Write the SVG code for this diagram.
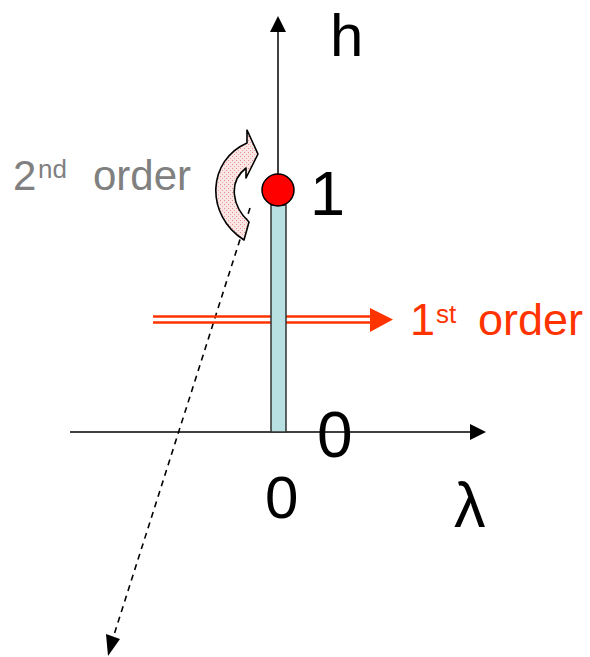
<svg xmlns="http://www.w3.org/2000/svg" width="590" height="657" viewBox="0 0 590 657">
<style>
.t{font-family:"Liberation Sans",Arial,sans-serif;}
.big{font-size:63px;fill:#000;}
.ax{stroke:#000;stroke-width:1.5;fill:none;}
</style>
<defs>
<pattern id="dots" width="4" height="4" patternUnits="userSpaceOnUse">
<rect width="4" height="4" fill="#fbe6e6"/>
<rect x="0" y="0" width="1" height="1" fill="#e48a8a"/>
<rect x="2" y="2" width="1" height="1" fill="#ee9e9e"/>
</pattern>
</defs>
<rect width="590" height="657" fill="#fff"/>
<g id="connectors">
<line class="ax" x1="70" y1="432" x2="471" y2="432"/>
<path d="M470,424 L486,432 L470,440 Z" fill="#000"/>
<line class="ax" x1="278" y1="432" x2="278" y2="31"/>
<path d="M270,32 L278,16 L286,32 Z" fill="#000"/>
<line x1="250" y1="208" x2="113" y2="638" stroke="#000" stroke-width="1.6" stroke-dasharray="6,5"/>
<path d="M106,634 L120,639 L108,656 Z" fill="#000"/>
<line x1="153" y1="316.5" x2="372" y2="316.5" stroke="#ff3300" stroke-width="2.5"/>
<line x1="153" y1="322.5" x2="372" y2="322.5" stroke="#ff3300" stroke-width="2.5"/>
<path d="M370,308 L393,319.5 L370,332 Z" fill="#ff3300"/>
</g>
<g id="bar">
<rect x="271" y="205" width="15" height="227" fill="#b8dfe1" stroke="#333" stroke-width="1.5"/>
</g>
<g id="point">
<circle cx="278" cy="190" r="16" fill="#ff0000" stroke="#000" stroke-width="1.5"/>
</g>
<g id="curved-arrow">
<path d="M244,240 C204,214 208,160 247,143 L247,130 L258,154 L246,178 L246,168 C228,182 232,206 249,222 Z" fill="url(#dots)" stroke="#000" stroke-width="1.6" stroke-linejoin="round"/>
</g>
<g id="labels" class="t">
<text class="t" x="330" y="56" font-size="60">h</text>
<text class="t big" x="310" y="215">1</text>
<text class="t" x="317" y="457" font-size="64">0</text>
<text class="t" x="265" y="518" font-size="60">0</text>
<text class="t big" x="454" y="527">λ</text>
<text class="t" fill="#808080"><tspan x="13" y="190" font-size="42">2</tspan><tspan x="38" y="178" font-size="26">nd</tspan><tspan x="93" y="190" font-size="42">order</tspan></text>
<text class="t" fill="#ff3300"><tspan x="410" y="335" font-size="45">1</tspan><tspan x="436" y="323" font-size="26">st</tspan><tspan x="478" y="335" font-size="45">order</tspan></text>
</g>
</svg>
